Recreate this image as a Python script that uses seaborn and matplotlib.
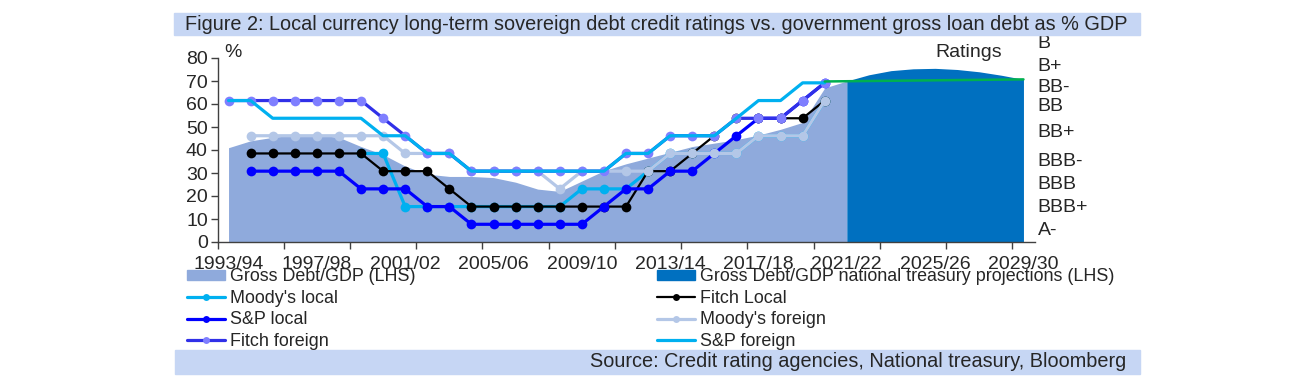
import numpy as np
import pandas as pd
import matplotlib.pyplot as plt
import seaborn as sns
from matplotlib.lines import Line2D
from matplotlib.patches import Patch, Rectangle
import matplotlib.transforms as mtransforms

sns.set_theme(style='white')
plt.rcParams['font.family'] = ['Liberation Sans', 'DejaVu Sans']

# categories (fiscal years)
years = [f"{y}/{(y + 1) % 100:02d}" for y in range(1993, 2030)]
label_years = years[::4]

nan = np.nan
# gross debt / GDP, % (actual, 1993/94 - 2021/22)
gross_debt = [41, 44, 45.5, 46.5, 46.5, 45.5, 41.5, 38, 33, 29.5,
              28.5, 28.5, 28, 26, 23, 22, 26.5, 31, 34, 36.5,
              39, 41.5, 43, 44.5, 46.5, 49, 52, 67, 70]
# national treasury projections, 2021/22 - 2029/30
projection = [70, 72.7, 74.5, 75.3, 75.5, 75.0, 74.0, 72.5, 70.7]
# unlabelled green line, 2020/21 - 2029/30
green_line = [69.8, 69.9, 70.0, 70.1, 70.2, 70.3, 70.4, 70.5, 70.6, 70.7]

# ratings plotted on the % scale, 1993/94 - 2020/21
moodys_local = [nan, nan, nan, nan, nan, nan, 38.5, 38.5, 15.4, 15.4,
                15.4, 15.4, 15.4, 15.4, 15.4, 15.4, 23.1, 23.1, 23.1, 30.8,
                38.5, 38.5, 38.5, 38.5, 46.2, 46.2, 46.2, 61.5]
fitch_local = [nan, 38.5, 38.5, 38.5, 38.5, 38.5, 38.5, 30.8, 30.8, 30.8,
               23.1, 15.4, 15.4, 15.4, 15.4, 15.4, 15.4, 15.4, 15.4, 30.8,
               30.8, 38.5, 46.2, 53.8, 53.8, 53.8, 53.8, 61.5]
sp_local = [nan, 30.8, 30.8, 30.8, 30.8, 30.8, 23.1, 23.1, 23.1, 15.4,
            15.4, 7.7, 7.7, 7.7, 7.7, 7.7, 7.7, 15.4, 23.1, 23.1,
            30.8, 30.8, 38.5, 46.2, 53.8, 53.8, 61.5, 69.2]
moodys_foreign = [nan, 46.2, 46.2, 46.2, 46.2, 46.2, 46.2, 46.2, 38.5, 38.5,
                  38.5, 30.8, 30.8, 30.8, 30.8, 23.1, 30.8, 30.8, 30.8, 30.8,
                  38.5, 38.5, 38.5, 38.5, 46.2, 46.2, 46.2, 61.5]
fitch_foreign = [61.5, 61.5, 61.5, 61.5, 61.5, 61.5, 61.5, 53.8, 46.2, 38.5,
                 38.5, 30.8, 30.8, 30.8, 30.8, 30.8, 30.8, 30.8, 38.5, 38.5,
                 46.2, 46.2, 46.2, 53.8, 53.8, 53.8, 61.5, 69.2]
sp_foreign = [61.5, 61.5, 53.8, 53.8, 53.8, 53.8, 53.8, 46.2, 46.2, 38.5,
              38.5, 30.8, 30.8, 30.8, 30.8, 30.8, 30.8, 30.8, 38.5, 38.5,
              46.2, 46.2, 46.2, 53.8, 61.5, 61.5, 69.2, 69.2]

rating_labels = ['B', 'B+', 'BB-', 'BB', 'BB+', 'BBB-', 'BBB', 'BBB+', 'A-']
rating_label_pos = [86.5, 76.5, 67, 58.7, 47.4, 34.8, 25.2, 14.8, 5.2]

ratings = pd.DataFrame({
    'idx': range(len(sp_foreign)),
    "Moody's local": moodys_local,
    'Fitch Local': fitch_local,
    'S&P local': sp_local,
    "Moody's foreign": moodys_foreign,
    'Fitch foreign': fitch_foreign,
    'S&P foreign': sp_foreign,
})

fig = plt.figure(figsize=(13.12, 3.83), dpi=100)
W, H = 1312, 383
ax = fig.add_axes([217.5 / W, 141 / H, 817 / W, 184 / H])

# areas
x_debt = np.arange(len(gross_debt))
x_proj = np.arange(len(gross_debt) - 1, len(gross_debt) - 1 + len(projection))
ax.fill_between(x_debt, gross_debt, color='#8FAADC', lw=0, zorder=1)
ax.fill_between(x_proj, projection, color='#0070C0', lw=0, zorder=1)

# rating lines
styles = {
    "Moody's local": dict(color='#00B0F0', marker='o'),
    'Fitch Local': dict(color='black', marker='o', linewidth=1.6),
    'S&P local': dict(color='#0000FF', marker='o'),
    "Moody's foreign": dict(color='#B4C7E7', marker='o'),
    'Fitch foreign': dict(color='#3030E8', marker='o', markerfacecolor='#7F7FFF'),
    'S&P foreign': dict(color='#00B0F0', marker=None),
}
for z, (name, st) in enumerate(styles.items()):
    kw = dict(linewidth=2.3, markersize=7, markeredgewidth=0)
    kw.update(st)
    sns.lineplot(data=ratings, x='idx', y=name, ax=ax, legend=False,
                 zorder=3 + z, **kw)

x_green = np.arange(27, 27 + len(green_line))
sns.lineplot(x=x_green, y=green_line, ax=ax, color='#00B050', linewidth=1.8,
             legend=False, zorder=10)

ax.set_xlim(-0.5, 36.5)
ax.set_ylim(0, 80)
ax.set_xlabel('')
ax.set_ylabel('')
for s in ['top', 'right']:
    ax.spines[s].set_visible(False)
for s in ['left', 'bottom']:
    ax.spines[s].set_color('#404040')
    ax.spines[s].set_linewidth(1)

ax.set_yticks(range(0, 81, 10))
ax.tick_params(axis='y', length=5, width=1, direction='out', pad=2,
               labelsize=14, color='#404040', left=True)
ax.set_xticks(range(0, 37, 4))
ax.set_xticklabels(label_years)
ax.set_xticks(np.arange(-0.5, 36, 3), minor=True)
ax.tick_params(axis='x', which='major', length=0, pad=10, labelsize=14)
ax.tick_params(axis='x', which='minor', length=5, width=1, direction='out',
               color='#404040', bottom=True)
ax.grid(False)

ax.text(-0.2, 82.6, '%', fontsize=14, ha='left', va='center', clip_on=False)
ax.text(33.5, 82.6, 'Ratings', fontsize=14, ha='center', va='center', clip_on=False)

trans = mtransforms.blended_transform_factory(ax.transAxes, ax.transData)
for lab, pos in zip(rating_labels, rating_label_pos):
    ax.text(1.004, pos, lab, transform=trans, fontsize=14, ha='left',
            va='center', clip_on=False)

# title and source bands
band = '#C6D6F4'
fig.patches.append(Rectangle((174 / W, 1 - 35 / H), 966 / W, 22.3 / H,
                             transform=fig.transFigure, color=band, zorder=0))
fig.patches.append(Rectangle((175 / W, 1 - 373.5 / H), 965 / W, 23.5 / H,
                             transform=fig.transFigure, color=band, zorder=0))
fig.text(185 / W, 1 - 24 / H,
         'Figure 2: Local currency long-term sovereign debt credit ratings vs. '
         'government gross loan debt as % GDP',
         fontsize=14.3, ha='left', va='center')
fig.text(1126 / W, 1 - 361.5 / H,
         'Source: Credit rating agencies, National treasury, Bloomberg',
         fontsize=14.3, ha='right', va='center')

# legend, two columns
def line_handle(name):
    st = dict(styles[name])
    return Line2D([], [], color=st.pop('color'), marker=st.pop('marker'),
                  markersize=5, markeredgewidth=0,
                  linewidth=st.pop('linewidth', 2.3), **st)

col1 = [(Patch(color='#8FAADC'), 'Gross Debt/GDP (LHS)'),
        (line_handle("Moody's local"), "Moody's local"),
        (line_handle('S&P local'), 'S&P local'),
        (line_handle('Fitch foreign'), 'Fitch foreign')]
col2 = [(Patch(color='#0070C0'),
         'Gross Debt/GDP national treasury projections (LHS)'),
        (line_handle('Fitch Local'), 'Fitch Local'),
        (line_handle("Moody's foreign"), "Moody's foreign"),
        (line_handle('S&P foreign'), 'S&P foreign')]
for xpos, col in [(187, col1), (657, col2)]:
    fig.legend([h for h, _ in col], [t for _, t in col], loc='upper left',
               bbox_to_anchor=(xpos / W, 1 - 268 / H), frameon=False,
               fontsize=12.9, handlelength=2.1, handleheight=0.5,
               handletextpad=0.3, labelspacing=0.26, borderpad=0,
               borderaxespad=0)

fig.savefig('out.png', dpi=100)
